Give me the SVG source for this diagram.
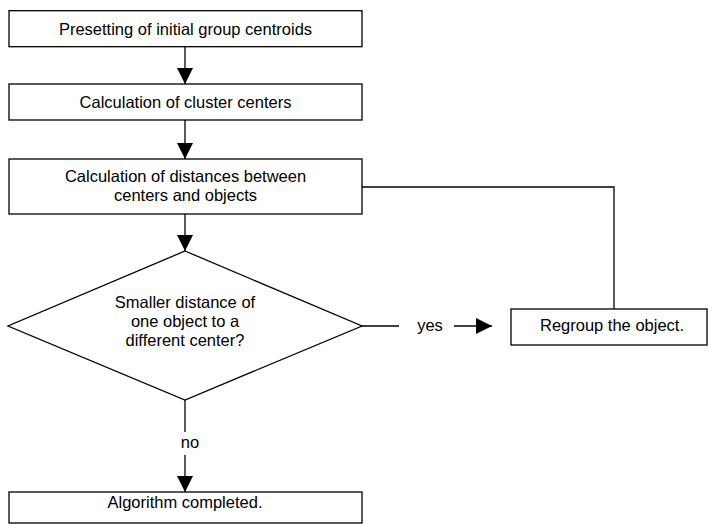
<svg xmlns="http://www.w3.org/2000/svg" width="708" height="524" viewBox="0 0 708 524">
<style>
.box{fill:#fff;stroke:#000;stroke-width:1.3}
.ln{fill:none;stroke:#000;stroke-width:1.3}
text{font-family:"Liberation Sans",Arial,sans-serif;font-size:16.5px;fill:#000;text-anchor:middle}
</style>
<defs>
<marker id="ah" viewBox="0 0 16 16" refX="16" refY="8" markerWidth="16" markerHeight="16" markerUnits="userSpaceOnUse" orient="auto">
<path d="M0,0 L16,8 L0,16 Z" fill="#000"/>
</marker>
</defs>
<rect width="708" height="524" fill="#fff"/>
<g id="connectors">
<line class="ln" x1="185" y1="46.7" x2="185" y2="84" marker-end="url(#ah)"/>
<line class="ln" x1="185" y1="120" x2="185" y2="159" marker-end="url(#ah)"/>
<line class="ln" x1="185" y1="214" x2="185" y2="251" marker-end="url(#ah)"/>
<line class="ln" x1="185" y1="400" x2="185" y2="432"/>
<line class="ln" x1="185" y1="455" x2="185" y2="492" marker-end="url(#ah)"/>
<line class="ln" x1="362" y1="326" x2="399" y2="326"/>
<line class="ln" x1="454" y1="326" x2="492" y2="326" marker-end="url(#ah)"/>
<polyline class="ln" points="362,187 614,187 614,309"/>
<text x="430" y="331">yes</text>
<text x="190" y="448">no</text>
</g>
<g id="n1">
<rect class="box" x="9" y="10.7" width="353" height="36"/>
<text x="185.5" y="35">Presetting of initial group centroids</text>
</g>
<g id="n2">
<rect class="box" x="9" y="84" width="353" height="36"/>
<text x="185.5" y="108">Calculation of cluster centers</text>
</g>
<g id="n3">
<rect class="box" x="9" y="159" width="353" height="55"/>
<text x="185.5" y="182">Calculation of distances between</text>
<text x="185.5" y="201">centers and objects</text>
</g>
<g id="n4">
<polygon class="box" points="185,251 362,326 185,400 8,326"/>
<text x="185" y="308">Smaller distance of</text>
<text x="185" y="327">one object to a</text>
<text x="185" y="346">different center?</text>
</g>
<g id="n5">
<rect class="box" x="511" y="309" width="196" height="36"/>
<text x="612" y="331">Regroup the object.</text>
</g>
<g id="n6">
<rect class="box" x="9" y="492" width="353" height="31"/>
<text x="185" y="508">Algorithm completed.</text>
</g>
</svg>
